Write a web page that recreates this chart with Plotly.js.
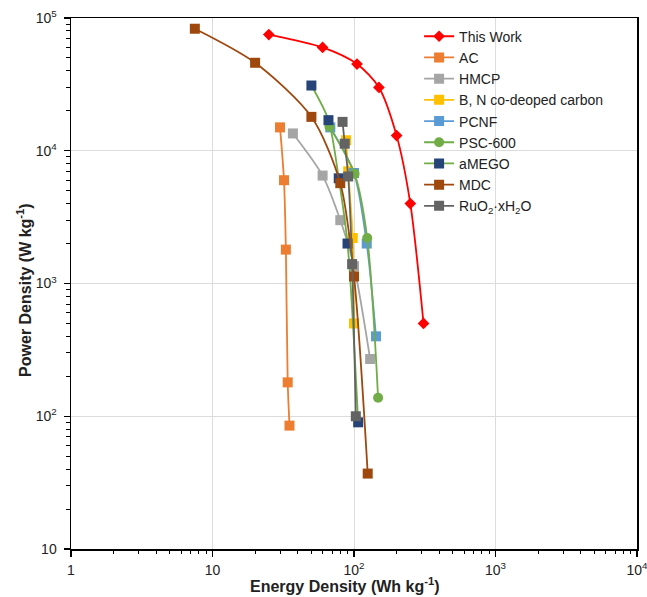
<!DOCTYPE html>
<html>
<head>
<meta charset="utf-8">
<script src="https://cdn.plot.ly/plotly-3.0.1.min.js"></script>
<style>html,body{margin:0;padding:0;background:#fff;}#chart{width:647px;height:597px;}</style>
</head>
<body>
<div id="chart"></div>
<script>
// Energy density (Wh/kg) and power density (W/kg)
const thisWorkE = [25, 60, 105, 150, 200, 250, 310];
const thisWorkP = [75000, 60000, 45000, 30000, 13000, 4000, 500];
const acE = [30, 32, 33, 34, 35];
const acP = [15000, 6000, 1800, 180, 85];
const hmcpE = [37, 60, 80, 100, 130];
const hmcpP = [13500, 6500, 3000, 1350, 270];
const bnE = [88, 91, 98, 100];
const bnP = [12000, 7000, 2200, 500];
const pcnfE = [68, 100, 123, 143];
const pcnfP = [15000, 6800, 2000, 400];
const pscE = [67, 101, 124, 148];
const pscP = [15200, 6700, 2200, 138];
const amegoE = [50, 66, 78, 90, 107];
const amegoP = [31000, 17000, 6200, 2000, 90];
const mdcE = [7.5, 20, 50, 80, 100, 125];
const mdcP = [83000, 46000, 18000, 5700, 1130, 37];
const ruoE = [83, 86, 91, 97, 103];
const ruoP = [16500, 11300, 6400, 1400, 100];

const names = ["This Work", "AC", "HMCP", "B, N co-deoped carbon", "PCNF", "PSC-600", "aMEGO", "MDC", "RuO<sub>2</sub>·xH<sub>2</sub>O"];
const xTitle = 'Energy Density (Wh kg<sup>-1</sup>)';
const yTitle = 'Power Density (W kg<sup>-1</sup>)';
const xTickVals = [1, 10, 100, 1000, 10000];
const xTickText = ["1", "10", "10<sup>2</sup>", "10<sup>3</sup>", "10<sup>4</sup>"];
const yTickVals = [10, 100, 1000, 10000, 100000];
const yTickText = ["10", "10<sup>2</sup>", "10<sup>3</sup>", "10<sup>4</sup>", "10<sup>5</sup>"];
const digits = [2, 3, 4, 5, 6, 7, 8, 9];

function minorTicks(decades) {
  const out = [];
  decades.forEach(d => digits.forEach(k => out.push(k * d)));
  return out;
}

function tr(x, y, name, lineColor, markerColor, symbol, size) {
  return {
    x: x, y: y, name: name, type: 'scatter', mode: 'lines+markers',
    line: {color: lineColor, width: 1.8, shape: 'spline', smoothing: 0.8},
    marker: {color: markerColor, symbol: symbol, size: size}
  };
}

const data = [
  tr(thisWorkE, thisWorkP, names[0], '#FF0000', '#FF0000', 'diamond', 9),
  tr(acE, acP, names[1], '#ED7D31', '#ED7D31', 'square', 10),
  tr(hmcpE, hmcpP, names[2], '#A5A5A5', '#A5A5A5', 'square', 10),
  tr(bnE, bnP, names[3], '#FFC000', '#FFC000', 'square', 10),
  tr(pcnfE, pcnfP, names[4], '#5B9BD5', '#5B9BD5', 'square', 10),
  tr(pscE, pscP, names[5], '#70AD47', '#70AD47', 'circle', 10),
  tr(amegoE, amegoP, names[6], '#70AD47', '#264478', 'square', 10),
  tr(mdcE, mdcP, names[7], '#9E480E', '#9E480E', 'square', 10),
  tr(ruoE, ruoP, names[8], '#636363', '#636363', 'square', 10)
];

const axisCommon = {
  type: 'log', showline: true, linecolor: '#000', linewidth: 1.5, mirror: true,
  ticks: 'outside', ticklen: 6, tickwidth: 1.3, tickcolor: '#000',
  tickmode: 'array', ticklabeloverflow: 'allow',
  showgrid: true, gridcolor: '#dcdcdc', gridwidth: 1, zeroline: false,
  tickfont: {family: 'Liberation Sans, Arial, sans-serif', size: 14, color: '#222'}
};

const layout = {
  width: 647, height: 597,
  margin: {l: 71, r: 10, t: 18, b: 48},
  paper_bgcolor: '#fff', plot_bgcolor: '#fff',
  font: {family: 'Liberation Sans, Arial, sans-serif', color: '#222'},
  xaxis: Object.assign({}, axisCommon, {
    range: [0, 4], tickvals: xTickVals, ticktext: xTickText, ticklabelstandoff: 2,
    minor: {tickmode: 'array', tickvals: minorTicks([1, 10, 100, 1000]), ticks: 'outside', ticklen: 3.5, tickwidth: 1, tickcolor: '#000', showgrid: false}
  }),
  yaxis: Object.assign({}, axisCommon, {
    range: [1, 5], tickvals: yTickVals, ticktext: yTickText, ticklabelstandoff: 4,
    minor: {tickmode: 'array', tickvals: minorTicks([10, 100, 1000, 10000]), ticks: 'outside', ticklen: 3.5, tickwidth: 1, tickcolor: '#000', showgrid: false}
  }),
  annotations: [
    {text: xTitle, xref: 'paper', yref: 'paper', x: 0.484, y: -0.068, xanchor: 'center', yanchor: 'middle',
     showarrow: false, font: {size: 16, color: '#222', weight: 'bold'}},
    {text: yTitle, xref: 'paper', yref: 'paper', x: -0.083, y: 0.488, xanchor: 'center', yanchor: 'middle',
     textangle: -90, showarrow: false, font: {size: 16, color: '#222', weight: 'bold'}}
  ],
  legend: {
    x: 0.615, y: 0.995, xanchor: 'left', yanchor: 'top',
    bgcolor: 'rgba(255,255,255,0)', borderwidth: 0,
    font: {size: 14, color: '#222'}, itemwidth: 30, tracegroupgap: 0
  },
  showlegend: true
};

Plotly.newPlot('chart', data, layout, {displayModeBar: false, staticPlot: true});
</script>
</body>
</html>
